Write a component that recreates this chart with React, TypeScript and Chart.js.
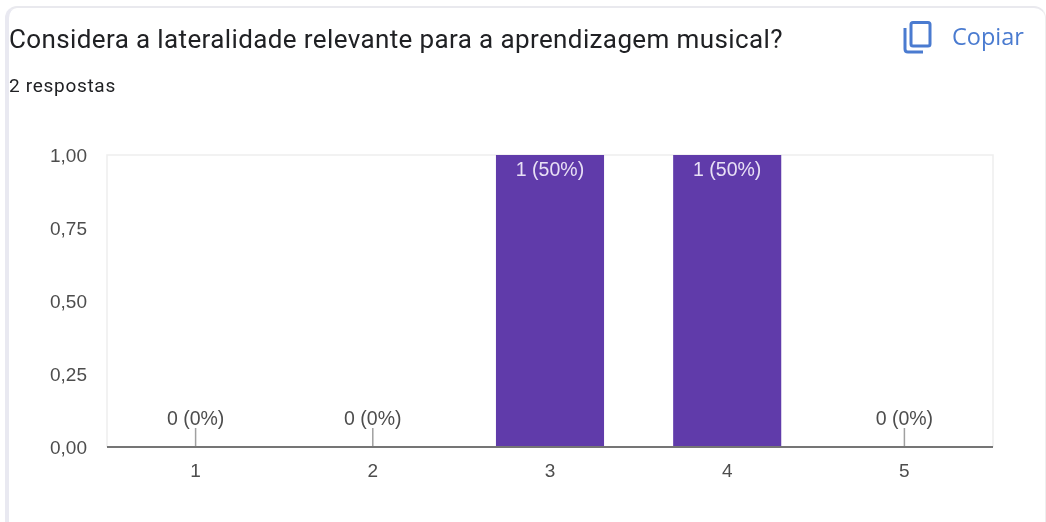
import React, { useEffect, useRef } from "react";
import { Chart, registerables } from "chart.js";

Chart.register(...registerables);

const categories = ["1", "2", "3", "4", "5"];
const counts = [0, 0, 1, 1, 0];
const barLabels = ["0 (0%)", "0 (0%)", "1 (50%)", "1 (50%)", "0 (0%)"];
const yTicks = [0, 0.25, 0.5, 0.75, 1];
const titleText = "Considera a lateralidade relevante para a aprendizagem musical?";
const subtitleText = "2 respostas";
const copyText = "Copiar";

const tickFont = { family: "'Liberation Sans', Arial, sans-serif", size: 19 };

const overlay = {
  id: "overlay",
  beforeDatasetsDraw(chart: any) {
    const { ctx, chartArea: a } = chart;
    ctx.save();
    ctx.strokeStyle = "#eeeeee";
    ctx.lineWidth = 1.5;
    ctx.beginPath();
    ctx.moveTo(a.left, a.bottom);
    ctx.lineTo(a.left, a.top);
    ctx.lineTo(a.right, a.top);
    ctx.lineTo(a.right, a.bottom);
    ctx.stroke();
    ctx.restore();
  },
  afterDatasetsDraw(chart: any) {
    const { ctx, chartArea: a, scales } = chart;
    ctx.save();
    ctx.font = `19.5px ${tickFont.family}`;
    ctx.textAlign = "center";
    ctx.textBaseline = "middle";
    counts.forEach((v, i) => {
      const x = scales.x.getPixelForValue(i);
      if (v === 0) {
        ctx.strokeStyle = "#a0a0a0";
        ctx.lineWidth = 1.5;
        ctx.beginPath();
        ctx.moveTo(x, a.bottom - 19);
        ctx.lineTo(x, a.bottom);
        ctx.stroke();
        ctx.fillStyle = "#4d4d4d";
        ctx.fillText(barLabels[i], x, a.bottom - 27);
      } else {
        ctx.fillStyle = "#e8e0f5";
        ctx.fillText(barLabels[i], x, scales.y.getPixelForValue(v) + 16);
      }
    });
    ctx.strokeStyle = "#757575";
    ctx.lineWidth = 2;
    ctx.beginPath();
    ctx.moveTo(a.left, a.bottom);
    ctx.lineTo(a.right, a.bottom);
    ctx.stroke();
    ctx.restore();
  },
};

export default function App() {
  const ref = useRef<HTMLCanvasElement>(null);
  useEffect(() => {
    const chart = new Chart(ref.current!, {
      type: "bar",
      data: {
        labels: categories,
        datasets: [{ data: counts, backgroundColor: "#603baa", categoryPercentage: 0.61, barPercentage: 1 }],
      },
      options: {
        animation: false,
        responsive: false,
        events: [],
        layout: { padding: { top: 155, right: 53, left: 0, bottom: 0 } },
        plugins: { legend: { display: false }, tooltip: { enabled: false }, title: { display: false } },
        scales: {
          x: {
            grid: { display: false },
            border: { display: false },
            ticks: { color: "#4d4d4d", font: tickFont, padding: 5, maxRotation: 0 },
            afterFit: (s: any) => { s.height = 75; },
          },
          y: {
            min: 0,
            max: 1,
            grid: { display: false },
            border: { display: false },
            afterBuildTicks: (s: any) => { s.ticks = yTicks.map((value) => ({ value })); },
            ticks: {
              color: "#4d4d4d",
              font: tickFont,
              padding: 12,
              labelOffset: 2,
              callback: (v: any) => Number(v).toFixed(2).replace(".", ","),
            },
            afterFit: (s: any) => { s.width = 107; },
          },
        },
      },
      plugins: [overlay],
    } as any);
    return () => chart.destroy();
  }, []);

  return (
    <div style={{ position: "fixed", inset: 0, background: "#ffffff", overflow: "hidden", fontFamily: "Roboto, sans-serif" }}>
      <div
        style={{
          position: "absolute", left: 5, top: 6, width: 1041, height: 530, boxSizing: "border-box",
          borderLeft: "4px solid #e9e9f1", borderTop: "2px solid #e9e9ee", borderRight: "1px solid #eeeeee",
          borderRadius: "12px 12px 0 0",
        }}
      />
      <canvas ref={ref} width={1046} height={522} style={{ position: "absolute", left: 0, top: 0, width: 1046, height: 522 }} />
      <div style={{ position: "absolute", left: 9, top: 23, fontSize: 26, lineHeight: "32px", color: "#202124", whiteSpace: "nowrap", letterSpacing: 0.38 }}>
        {titleText}
      </div>
      <div style={{ position: "absolute", left: 9, top: 75, fontSize: 19, lineHeight: "22px", color: "#202124", whiteSpace: "nowrap", letterSpacing: 0.7 }}>
        {subtitleText}
      </div>
      <svg style={{ position: "absolute", left: 902, top: 20 }} width={32} height={34} viewBox="0 0 32 34">
        <path d="M3 8 V29 Q3 32 6 32 H21" fill="none" stroke="#4a7bd0" strokeWidth={3} />
        <rect x={9} y={2.5} width={19} height={23.5} rx={2} fill="none" stroke="#4a7bd0" strokeWidth={3} />
      </svg>
      <div style={{ position: "absolute", left: 952, top: 21, fontSize: 23.5, fontWeight: 500, lineHeight: "30px", color: "#4a7bd0", whiteSpace: "nowrap", fontFamily: "'Open Sans', sans-serif" }}>
        {copyText}
      </div>
    </div>
  );
}
